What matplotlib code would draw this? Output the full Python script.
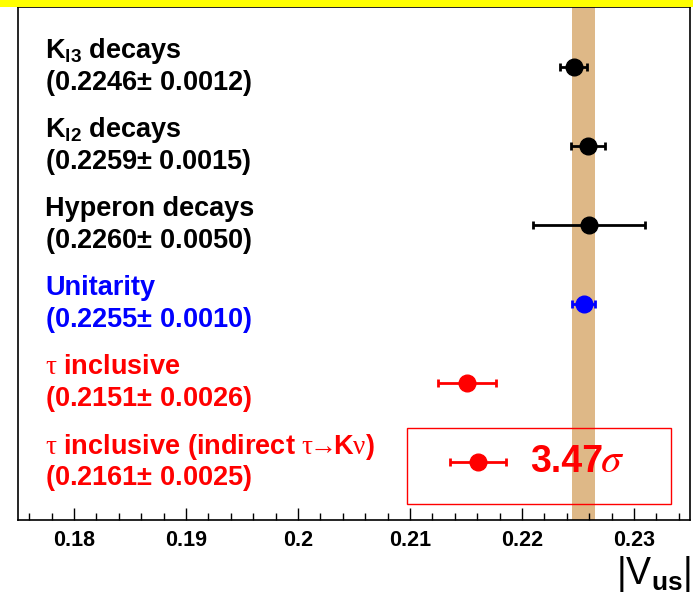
import matplotlib.pyplot as plt
from matplotlib.patches import Rectangle

plt.rcParams['font.family'] = ['Liberation Sans', 'DejaVu Sans']
plt.rcParams['mathtext.fontset'] = 'custom'
plt.rcParams['mathtext.rm'] = 'Liberation Sans:bold'
plt.rcParams['mathtext.bf'] = 'Liberation Sans:bold'
plt.rcParams['mathtext.it'] = 'Liberation Sans:bold'
plt.rcParams['mathtext.sf'] = 'Liberation Serif'

# |Vus| determinations, top to bottom
names = [r'$\mathbf{K_{l3}}$ decays', r'$\mathbf{K_{l2}}$ decays', 'Hyperon decays',
         'Unitarity', r'$\mathsf{\tau}$ inclusive',
         r'$\mathsf{\tau}$ inclusive (indirect $\mathsf{\tau}\!\!\rightarrow\!\!\mathbf{K}\mathsf{\nu}$)']
values = [0.2246, 0.2259, 0.2260, 0.2255, 0.2151, 0.2161]
errors = [0.0012, 0.0015, 0.0050, 0.0010, 0.0026, 0.0025]
colors = ['black', 'black', 'black', 'blue', 'red', 'red']
rows = [6, 5, 4, 3, 2, 1]

# unitarity band
band_center = 0.2255
band_halfwidth = 0.0010
tension = '3.47'

fig = plt.figure(figsize=(6.93, 5.97), dpi=100)
fig.patches.append(Rectangle((0, 0.989), 1, 0.011, transform=fig.transFigure,
                             facecolor='yellow', edgecolor='none', zorder=0))
ax = fig.add_axes([0.026, 0.129, 0.9697, 0.859])

ax.axvspan(band_center - band_halfwidth, band_center + band_halfwidth,
           color='burlywood', lw=0, zorder=1)

for name, v, e, c, r in zip(names, values, errors, colors, rows):
    ax.errorbar(v, r, xerr=e, fmt='o', color=c, ms=12, elinewidth=2,
                capsize=3, capthick=2, zorder=3)
    ax.text(0.0405, r + 0.2, name, color=c, fontsize=19.5, fontweight='bold',
            va='center', ha='left', transform=ax.get_yaxis_transform())
    ax.text(0.0405, r - 0.2, f'({v:.4f}$\\pm$ {e:.4f})', color=c, fontsize=19.5,
            fontweight='bold', va='center', ha='left',
            transform=ax.get_yaxis_transform())

# significance box around the last row
ax.add_patch(Rectangle((0.2097, 0.47), 0.0236, 0.96, fill=False,
                       edgecolor='red', lw=1, zorder=4))
ax.text(0.2207, 1, tension, color='red', fontsize=27, fontweight='bold',
        va='center', ha='left', zorder=5)
ax.text(0.2270, 1.02, r'$\sigma$', color='red', fontsize=30, va='center',
        ha='left', math_fontfamily='stix', zorder=5)

ax.set_xlim(0.175, 0.235)
ax.set_ylim(0.27, 6.76)
ax.set_yticks([])
ax.set_xticks([0.18, 0.19, 0.2, 0.21, 0.22, 0.23])
ax.set_xticklabels(['0.18', '0.19', '0.2', '0.21', '0.22', '0.23'],
                   fontweight='bold')
ax.set_xticks([0.176 + 0.002 * i for i in range(30)], minor=True)
ax.tick_params(axis='x', which='major', direction='in', length=9, width=1,
               labelsize=15.5, pad=7)
ax.tick_params(axis='x', which='minor', direction='in', length=5, width=1)
for s in ax.spines.values():
    s.set_linewidth(1.2)

fig.text(0.997, 0.005, r'|V$_{\mathbf{us}}$|', fontsize=27,
         ha='right', va='bottom')

fig.savefig('out.png', dpi=100)
